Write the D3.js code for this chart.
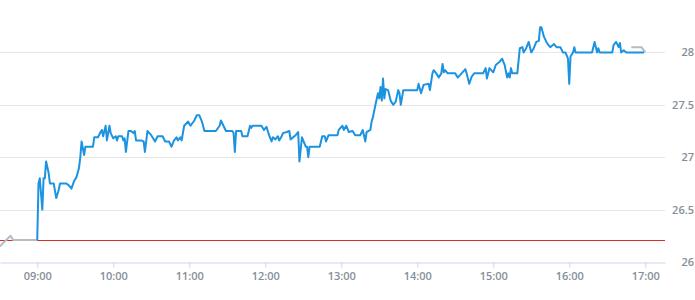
<!DOCTYPE html>
<html>
<head>
<meta charset="utf-8">
<script src="https://cdn.jsdelivr.net/npm/d3@7/dist/d3.min.js"></script>
<style>
  html, body { margin: 0; padding: 0; background: #fff; }
  svg { display: block; }
  text { font-family: "Open Sans", sans-serif; }
</style>
</head>
<body>
<svg id="chart" width="695" height="300"></svg>
<script>
// ---- data ----
const times = ["09:00","09:01","09:02","09:04","09:05","09:06","09:07","09:09","09:10","09:13","09:15","09:17","09:18","09:23","09:25","09:27","09:29","09:31","09:33","09:34","09:35","09:37","09:38","09:44","09:45","09:48","09:50","09:51","09:52","09:54","09:55","09:57","09:58",
"10:00","10:02","10:03","10:04","10:07","10:08","10:09","10:10","10:12","10:14","10:16","10:17","10:18","10:22","10:24","10:25","10:27","10:30","10:33","10:35","10:39","10:41","10:44","10:46","10:48","10:50","10:51","10:53","10:54","10:56","10:59",
"11:01","11:04","11:06","11:08","11:10","11:12","11:21","11:24","11:25","11:27","11:29","11:34","11:35","11:36","11:37","11:41","11:42","11:46","11:48","11:49","11:50","11:57","11:59",
"12:01","12:03","12:05","12:06","12:08","12:10","12:11","12:13","12:14","12:17","12:19","12:20","12:24","12:26","12:27","12:29","12:32","12:33","12:34","12:35","12:43","12:45","12:47","12:48","12:50","12:57","12:58",
"13:01","13:02","13:04","13:06","13:09","13:11","13:15","13:17","13:19","13:20","13:23","13:24","13:25","13:27","13:29","13:30","13:31","13:32","13:33","13:34","13:35","13:37","13:39","13:41","13:43","13:45","13:46","13:47","13:49",
"14:00","14:01","14:03","14:05","14:09","14:10","14:12","14:13","14:15","14:17","14:19","14:20","14:21","14:22","14:24","14:30","14:32","14:35","14:38","14:39","14:41","14:43","14:45","14:52","14:54","14:55","14:57",
"15:00","15:02","15:05","15:07","15:08","15:09","15:11","15:12","15:13","15:14","15:15","15:19","15:21","15:23","15:24","15:26","15:28","15:30","15:32","15:34","15:36","15:37","15:38","15:40","15:42","15:43","15:45","15:48","15:50","15:53","15:55","15:57","15:59",
"16:00","16:01","16:03","16:04","16:05","16:18","16:20","16:22","16:23","16:24","16:34","16:35","16:37","16:39","16:40","16:41","16:43","16:45","16:59"];
const prices = [26.21,26.75,26.80,26.50,26.80,26.80,26.96,26.85,26.75,26.75,26.61,26.69,26.75,26.75,26.73,26.70,26.77,26.81,26.90,27.00,27.15,27.02,27.10,27.10,27.19,27.19,27.24,27.26,27.20,27.30,27.16,27.30,27.23,
27.18,27.20,27.16,27.20,27.20,27.16,27.18,27.05,27.25,27.25,27.23,27.25,27.16,27.16,27.15,27.05,27.25,27.21,27.15,27.20,27.20,27.15,27.15,27.10,27.16,27.19,27.16,27.19,27.16,27.30,27.34,
27.30,27.35,27.40,27.40,27.34,27.25,27.25,27.30,27.35,27.30,27.25,27.25,27.23,27.05,27.25,27.25,27.20,27.20,27.30,27.28,27.30,27.30,27.26,
27.29,27.21,27.15,27.19,27.17,27.20,27.16,27.20,27.23,27.24,27.25,27.17,27.21,27.24,26.96,27.19,27.10,27.10,27.00,27.10,27.10,27.20,27.20,27.15,27.21,27.21,27.26,
27.30,27.26,27.30,27.24,27.25,27.21,27.21,27.26,27.15,27.24,27.26,27.34,27.38,27.50,27.61,27.56,27.67,27.54,27.75,27.56,27.65,27.64,27.54,27.50,27.53,27.64,27.61,27.50,27.64,
27.64,27.70,27.61,27.69,27.70,27.64,27.80,27.83,27.80,27.76,27.80,27.89,27.81,27.83,27.80,27.80,27.76,27.80,27.84,27.80,27.70,27.77,27.80,27.80,27.85,27.75,27.85,
27.81,27.88,27.91,27.94,27.91,27.88,27.76,27.80,27.76,27.85,27.80,27.80,28.04,28.05,28.00,28.04,28.10,28.00,28.04,28.10,28.11,28.24,28.24,28.15,28.10,28.08,28.05,28.08,28.05,28.05,28.00,28.00,27.94,
27.70,27.96,28.00,28.05,28.00,28.00,28.10,28.00,28.04,28.00,28.00,28.07,28.10,28.05,28.09,28.00,28.02,28.00,28.00];

const preTimes = ["08:27","08:39","08:41","09:00"];
const prePrices = [26.11,26.25,26.21,26.21];
const postTimes = ["16:49","16:57","17:00"];
const postPrices = [28.05,28.05,28.00];

const previousClose = 26.21;
const yTicks = [26, 26.5, 27, 27.5, 28];
const xTickLabels = ["09:00","10:00","11:00","12:00","13:00","14:00","15:00","16:00","17:00"];

// ---- helpers ----
const parseT = s => { const [h, m] = s.split(":").map(Number); return new Date(2020, 0, 1, h, m); };

// ---- layout ----
const svg = d3.select("#chart");
const plotLeft = 0, plotRight = 665, plotTop = 0, plotBottom = 262;

const x = d3.scaleTime()
  .domain([new Date(2020,0,1,8,30,36), new Date(2020,0,1,17,15,36)])
  .range([plotLeft, plotRight]);
const y = d3.scaleLinear().domain([26, 28.5]).range([plotBottom, plotTop]);

svg.append("defs").append("clipPath").attr("id", "clip")
  .append("rect").attr("x", plotLeft).attr("y", plotTop - 5)
  .attr("width", plotRight - plotLeft).attr("height", plotBottom - plotTop + 5);

// gridlines
svg.append("g").selectAll("line").data(yTicks.filter(v => v !== 26)).join("line")
  .attr("x1", plotLeft).attr("x2", plotRight)
  .attr("y1", d => Math.round(y(d)) + 0.5).attr("y2", d => Math.round(y(d)) + 0.5)
  .attr("stroke", "#e6e6e6").attr("stroke-width", 1);

// x axis
const xAxis = d3.axisBottom(x)
  .tickValues(xTickLabels.map(parseT))
  .tickFormat(d3.timeFormat("%H:%M"))
  .tickSizeInner(5).tickSizeOuter(0).tickPadding(5);
const gx = svg.append("g").attr("transform", `translate(0,${plotBottom + 0.5})`).call(xAxis);
gx.select(".domain").attr("stroke", "#ccd6eb");
gx.selectAll(".tick line").attr("stroke", "#ccd6eb");
gx.selectAll(".tick text").attr("fill", "#858e99").attr("font-size", 11).attr("font-weight", 600)
  .attr("font-family", "'Open Sans', sans-serif");

// y labels via axis on right
const yAxis = d3.axisRight(y).tickValues(yTicks).tickFormat(d => d3.format("")(d))
  .tickSize(0).tickPadding(0);
const gy = svg.append("g").attr("transform", `translate(695,0)`).call(yAxis);
gy.select(".domain").remove();
gy.selectAll(".tick text").attr("text-anchor", "end").attr("x", -1)
  .attr("fill", "#858e99").attr("font-size", 11).attr("font-weight", 600)
  .attr("font-family", "'Open Sans', sans-serif");

// previous close line
svg.append("line")
  .attr("x1", plotLeft).attr("x2", plotRight)
  .attr("y1", Math.round(y(previousClose)) + 0.5).attr("y2", Math.round(y(previousClose)) + 0.5)
  .attr("stroke", "#d63028").attr("stroke-width", 1);

const line = d3.line().x(d => x(d[0])).y(d => y(d[1]));
const plot = svg.append("g").attr("clip-path", "url(#clip)");

plot.append("path")
  .datum(preTimes.map((t, i) => [parseT(t), prePrices[i]]))
  .attr("d", line).attr("fill", "none").attr("stroke", "#b4bcc4").attr("stroke-width", 2)
  .attr("stroke-linejoin", "round");

plot.append("path")
  .datum(postTimes.map((t, i) => [parseT(t), postPrices[i]]))
  .attr("d", line).attr("fill", "none").attr("stroke", "#b4bcc4").attr("stroke-width", 2)
  .attr("stroke-linejoin", "round");

plot.append("path")
  .datum(times.map((t, i) => [parseT(t), prices[i]]))
  .attr("d", line).attr("fill", "none").attr("stroke", "#1c93e0").attr("stroke-width", 2)
  .attr("stroke-linejoin", "round");
</script>
</body>
</html>
